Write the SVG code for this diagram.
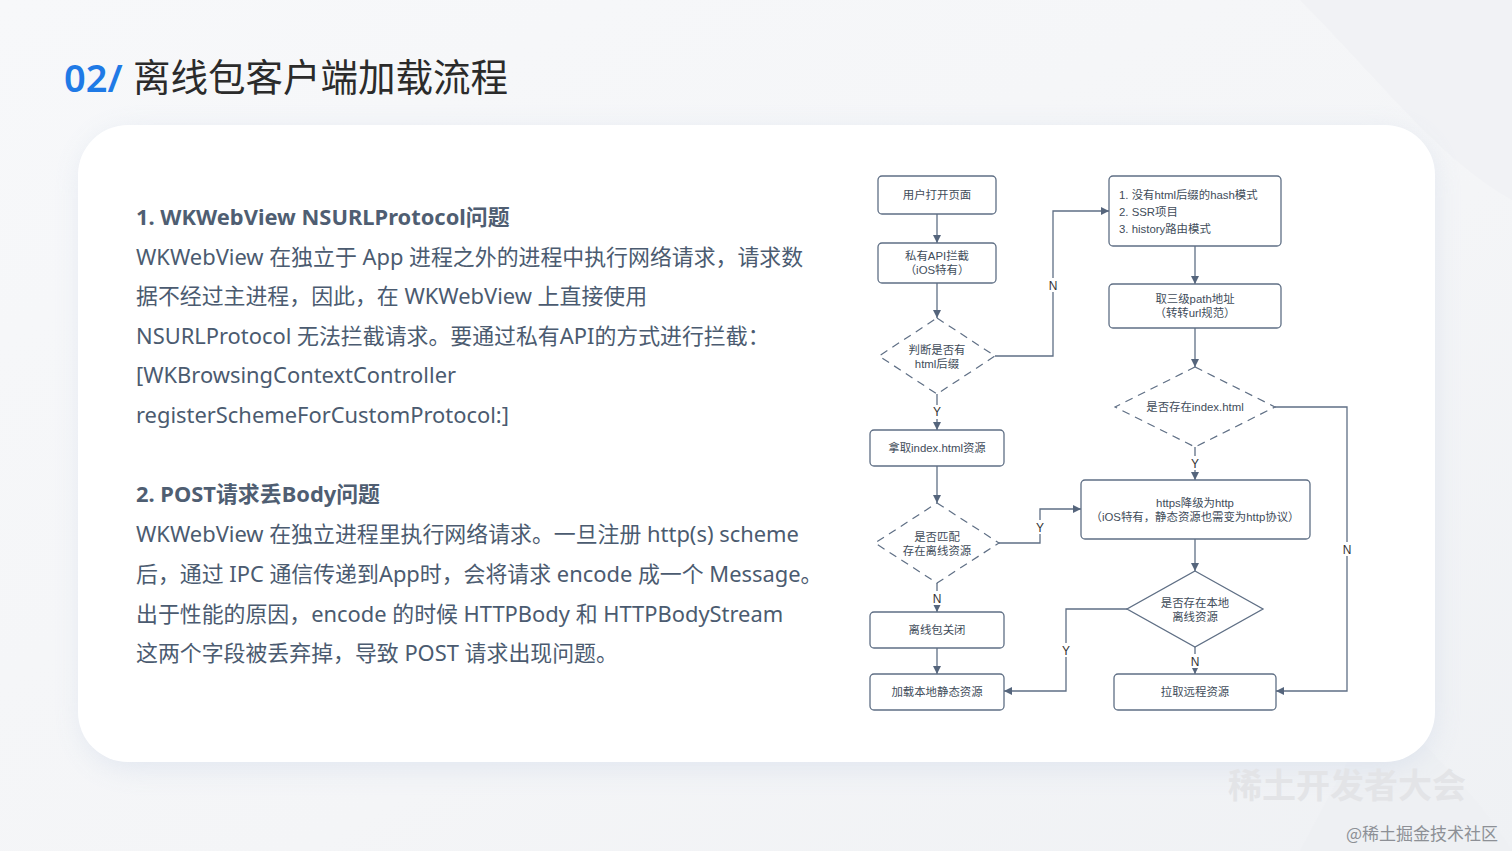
<svg xmlns="http://www.w3.org/2000/svg" width="1512" height="851" viewBox="0 0 1512 851">
<defs>
<style>
.body{font-family:"Noto Sans","Noto Sans CJK SC",sans-serif;font-size:21.9px;fill:#4b5b70}
.head{font-family:"Noto Sans","Noto Sans CJK SC",sans-serif;font-size:21.9px;font-weight:bold;fill:#4f5e72}
.box{fill:#ffffff;stroke:#5f6f85;stroke-width:1.3}
.dia{fill:#ffffff;stroke:#5f6f85;stroke-width:1.2;stroke-dasharray:8 6}
.sdia{fill:#ffffff;stroke:#5f6f85;stroke-width:1.3}
.t{font-family:"Liberation Sans","Noto Sans CJK SC",sans-serif;font-size:11.4px;fill:#414c5a;text-anchor:middle}
.tl{font-family:"Liberation Sans","Noto Sans CJK SC",sans-serif;font-size:11.4px;fill:#414c5a}
.lbl{font-family:"Liberation Sans","Noto Sans CJK SC",sans-serif;font-size:12px;fill:#333;text-anchor:middle}
.ln{fill:none;stroke:#5f6f85;stroke-width:1.3}
</style>
<marker id="ah" viewBox="0 0 10 10" refX="10" refY="5" markerWidth="8" markerHeight="8" markerUnits="userSpaceOnUse" orient="auto">
<path d="M0,0 L10,5 L0,10 z" fill="#55657c"/>
</marker>
<filter id="sh" x="-10%" y="-10%" width="120%" height="130%">
<feGaussianBlur stdDeviation="14"/>
</filter>
<linearGradient id="bg" x1="0" y1="0" x2="1" y2="1">
<stop offset="0" stop-color="#f7f8fa"/>
<stop offset="0.6" stop-color="#f4f5f7"/>
<stop offset="1" stop-color="#eff1f4"/>
</linearGradient>
</defs>
<rect x="0" y="0" width="1512" height="851" fill="url(#bg)"/>
<path d="M1300,0 C1380,80 1440,160 1512,200 L1512,0 z" fill="#f1f2f5"/>
<path d="M1380,700 C1440,760 1480,800 1512,851 L1300,851 z" fill="#eef0f3"/>

<g id="title">
<text x="64" y="92" font-family="Noto Sans, Noto Sans CJK SC, sans-serif" font-size="38" font-weight="600" fill="#1f7ae6">02/</text>
<text x="133" y="91" font-family="Noto Sans CJK SC, sans-serif" font-size="37.5" fill="#2b2b2b">离线包客户端加载流程</text>
</g>

<rect x="82" y="132" width="1352" height="636" rx="50" fill="#c9d4e6" opacity="0.45" filter="url(#sh)"/>
<rect x="78" y="125" width="1357" height="637" rx="50" fill="#ffffff"/>

<g id="left-text">
<text class="head" x="136" y="225">1. WKWebView NSURLProtocol问题</text>
<text class="body" x="136" y="265">WKWebView 在独立于 App 进程之外的进程中执行网络请求，请求数</text>
<text class="body" x="136" y="304">据不经过主进程，因此，在 WKWebView 上直接使用</text>
<text class="body" x="136" y="344">NSURLProtocol 无法拦截请求。要通过私有API的方式进行拦截：</text>
<text class="body" x="136" y="383">[WKBrowsingContextController</text>
<text class="body" x="136" y="423">registerSchemeForCustomProtocol:]</text>
<text class="head" x="136" y="502">2. POST请求丢Body问题</text>
<text class="body" x="136" y="542">WKWebView 在独立进程里执行网络请求。一旦注册 http(s) scheme</text>
<text class="body" x="136" y="582">后，通过 IPC 通信传递到App时，会将请求 encode 成一个 Message。</text>
<text class="body" x="136" y="622">出于性能的原因，encode 的时候 HTTPBody 和 HTTPBodyStream</text>
<text class="body" x="136" y="661">这两个字段被丢弃掉，导致 POST 请求出现问题。</text>
</g>

<g id="connectors">
<path class="ln" d="M937,214 V243" marker-end="url(#ah)"/>
<path class="ln" d="M937,283 V318" marker-end="url(#ah)"/>
<path class="ln" d="M937,394 V430" marker-end="url(#ah)"/>
<path class="ln" d="M995,356 H1053 V211 H1109" marker-end="url(#ah)"/>
<path class="ln" d="M1195,246 V284" marker-end="url(#ah)"/>
<path class="ln" d="M1195,328 V367" marker-end="url(#ah)"/>
<path class="ln" d="M1195,447 V480" marker-end="url(#ah)"/>
<path class="ln" d="M1275,407 H1347 V691 H1276" marker-end="url(#ah)"/>
<path class="ln" d="M937,466 V503" marker-end="url(#ah)"/>
<path class="ln" d="M999,543 H1040 V509 H1081" marker-end="url(#ah)"/>
<path class="ln" d="M937,583 V612" marker-end="url(#ah)"/>
<path class="ln" d="M937,648 V674" marker-end="url(#ah)"/>
<path class="ln" d="M1195,539 V571" marker-end="url(#ah)"/>
<path class="ln" d="M1127,609 H1066 V691 H1004" marker-end="url(#ah)"/>
<path class="ln" d="M1195,647 V674" marker-end="url(#ah)"/>
<rect x="931" y="405" width="12" height="14" fill="#fff"/>
<text class="lbl" x="937" y="416">Y</text>
<rect x="1047" y="278" width="12" height="14" fill="#fff"/>
<text class="lbl" x="1053" y="290">N</text>
<rect x="1189" y="456" width="12" height="14" fill="#fff"/>
<text class="lbl" x="1195" y="468">Y</text>
<rect x="1341" y="542" width="12" height="14" fill="#fff"/>
<text class="lbl" x="1347" y="554">N</text>
<rect x="1034" y="520" width="12" height="14" fill="#fff"/>
<text class="lbl" x="1040" y="532">Y</text>
<rect x="931" y="591" width="12" height="14" fill="#fff"/>
<text class="lbl" x="937" y="603">N</text>
<rect x="1060" y="643" width="12" height="14" fill="#fff"/>
<text class="lbl" x="1066" y="655">Y</text>
<rect x="1189" y="654" width="12" height="14" fill="#fff"/>
<text class="lbl" x="1195" y="666">N</text>
</g>

<g id="n-open">
<rect class="box" x="878" y="176" width="118" height="38" rx="4"/>
<text class="t" x="937" y="199">用户打开页面</text>
</g>
<g id="n-private">
<rect class="box" x="878" y="243" width="118" height="40" rx="4"/>
<text class="t" x="937" y="260">私有API拦截</text>
<text class="t" x="937" y="274">（iOS特有）</text>
</g>
<g id="n-judge-html">
<polygon class="dia" points="937,318 995,356 937,394 879,356"/>
<text class="t" x="937" y="354">判断是否有</text>
<text class="t" x="937" y="368">html后缀</text>
</g>
<g id="n-get-index">
<rect class="box" x="870" y="430" width="134" height="36" rx="4"/>
<text class="t" x="937" y="452">拿取index.html资源</text>
</g>
<g id="n-match">
<polygon class="dia" points="937,503 999,543 937,583 875,543"/>
<text class="t" x="937" y="541">是否匹配</text>
<text class="t" x="937" y="555">存在离线资源</text>
</g>
<g id="n-close">
<rect class="box" x="870" y="612" width="134" height="36" rx="4"/>
<text class="t" x="937" y="634">离线包关闭</text>
</g>
<g id="n-load-local">
<rect class="box" x="870" y="674" width="134" height="36" rx="4"/>
<text class="t" x="937" y="696">加载本地静态资源</text>
</g>
<g id="n-modes">
<rect class="box" x="1109" y="176" width="172" height="70" rx="4"/>
<text class="tl" x="1119" y="199">1. 没有html后缀的hash模式</text>
<text class="tl" x="1119" y="216">2. SSR项目</text>
<text class="tl" x="1119" y="233">3. history路由模式</text>
</g>
<g id="n-path">
<rect class="box" x="1109" y="284" width="172" height="44" rx="4"/>
<text class="t" x="1195" y="303">取三级path地址</text>
<text class="t" x="1195" y="317">（转转url规范）</text>
</g>
<g id="n-has-index">
<polygon class="dia" points="1195,367 1275,407 1195,447 1115,407"/>
<text class="t" x="1195" y="411">是否存在index.html</text>
</g>
<g id="n-downgrade">
<rect class="box" x="1081" y="480" width="229" height="59" rx="4"/>
<text class="t" x="1195" y="507">https降级为http</text>
<text class="t" x="1195" y="521">（iOS特有，静态资源也需变为http协议）</text>
</g>
<g id="n-has-local">
<polygon class="sdia" points="1195,571 1263,609 1195,647 1127,609"/>
<text class="t" x="1195" y="607">是否存在本地</text>
<text class="t" x="1195" y="621">离线资源</text>
</g>
<g id="n-remote">
<rect class="box" x="1114" y="674" width="162" height="36" rx="4"/>
<text class="t" x="1195" y="696">拉取远程资源</text>
</g>

<g id="watermark">
<text x="1228" y="798" font-family="Noto Sans CJK SC, sans-serif" font-size="34" font-weight="bold" fill="#e3e4e7">稀土开发者大会</text>
<text x="1346" y="840" font-family="Noto Sans CJK SC, sans-serif" font-size="17" fill="#8d9096">@稀土掘金技术社区</text>
</g>
</svg>
